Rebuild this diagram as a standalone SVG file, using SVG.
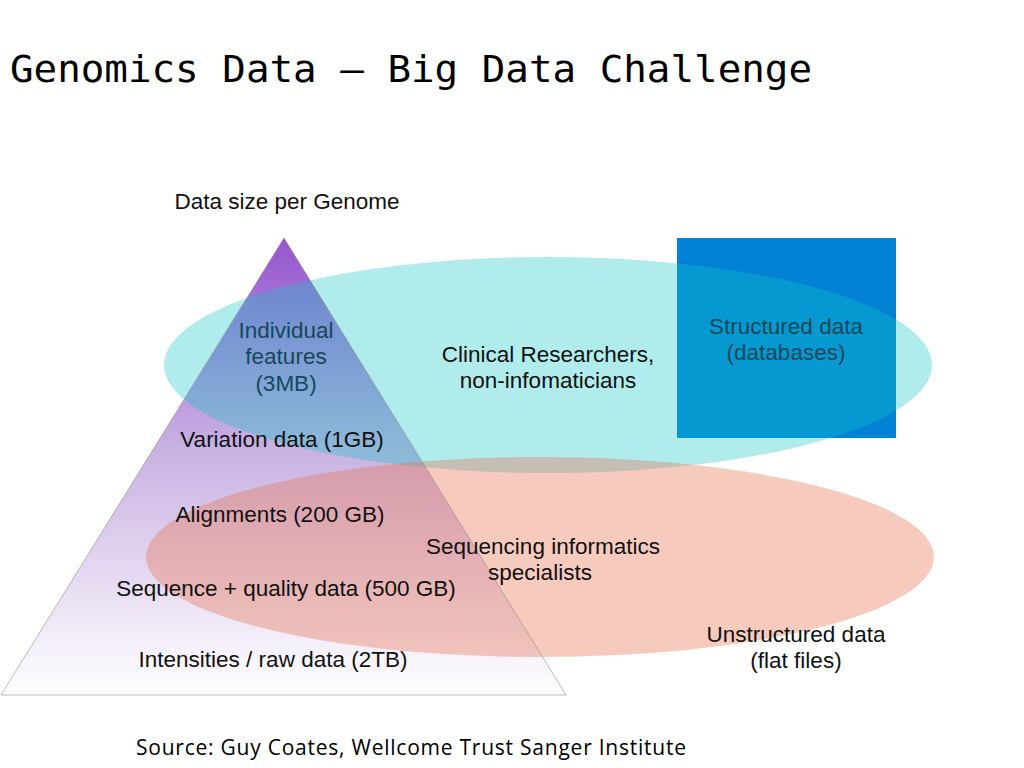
<svg xmlns="http://www.w3.org/2000/svg" width="1024" height="768" viewBox="0 0 1024 768">
<style>
.t{font-family:"Liberation Sans",Arial,sans-serif;font-size:22.5px;fill:#111;text-anchor:middle}
.dk{fill:#17485a}
</style>
<defs>
<linearGradient id="tri" x1="0" y1="238" x2="0" y2="695" gradientUnits="userSpaceOnUse">
<stop offset="0" stop-color="#9555cf"/>
<stop offset="0.45" stop-color="#c8b0e2"/>
<stop offset="1" stop-color="#ffffff"/>
</linearGradient>
</defs>
<rect width="1024" height="768" fill="#fff"/>
<text x="10" y="82" font-family="'DejaVu Sans Mono','Liberation Mono',monospace" font-size="38" fill="#000" textLength="802" lengthAdjust="spacingAndGlyphs">Genomics Data – Big Data Challenge</text>
<g id="triangle">
<polygon points="284,238 566,695 1,695" fill="url(#tri)"/>
</g>
<g id="structured-box">
<rect x="677" y="238" width="219" height="200" fill="#0282d5"/>
</g>
<g id="clinical-ellipse">
<ellipse cx="548" cy="365" rx="384" ry="108" fill="#0fc5c5" fill-opacity="0.33"/>
</g>
<g id="sequencing-ellipse">
<ellipse cx="540" cy="557" rx="394" ry="100" fill="#e6714e" fill-opacity="0.37"/>
</g>
<g id="triangle-outline">
<polygon points="284,238 566,695 1,695" fill="none" stroke="#888" stroke-width="0.8" stroke-opacity="0.7"/>
</g>
<g id="labels">
<text class="t" x="287" y="209">Data size per Genome</text>
<text class="t dk" x="286" y="338">Individual</text>
<text class="t dk" x="286" y="364">features</text>
<text class="t dk" x="286" y="391">(3MB)</text>
<text class="t" x="282" y="447">Variation data (1GB)</text>
<text class="t" x="280" y="522">Alignments (200 GB)</text>
<text class="t" x="286" y="596">Sequence + quality data (500 GB)</text>
<text class="t" x="273" y="667">Intensities / raw data (2TB)</text>
<text class="t" x="548" y="362">Clinical Researchers,</text>
<text class="t" x="548" y="388">non-infomaticians</text>
<text class="t" x="543" y="554">Sequencing informatics</text>
<text class="t" x="540" y="580">specialists</text>
<text class="t dk" x="786" y="334">Structured data</text>
<text class="t dk" x="786" y="360">(databases)</text>
<text class="t" x="796" y="642">Unstructured data</text>
<text class="t" x="796" y="668">(flat files)</text>
<text x="136" y="755" font-family="'Open Sans','Liberation Sans',sans-serif" font-size="21" fill="#000" textLength="550">Source: Guy Coates, Wellcome Trust Sanger Institute</text>
</g>
</svg>
